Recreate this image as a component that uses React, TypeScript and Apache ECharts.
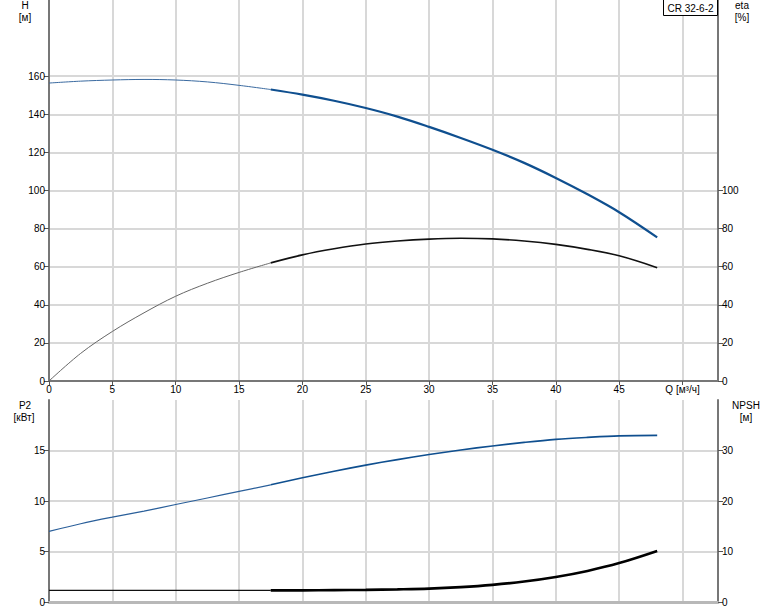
import React, { useEffect, useRef } from "react";
import * as echarts from "echarts";

const Q = [0, 2.5, 5, 7.5, 10, 12.5, 15, 17.5, 20, 22.5, 25, 27.5, 30, 32.5, 35, 37.5, 40, 42.5, 45, 48];
const H = [156.4, 157.4, 158.0, 158.3, 158.0, 157.0, 155.2, 153.0, 150.3, 147.1, 143.3, 138.8, 133.4, 127.6, 121.4, 114.5, 106.6, 98.0, 88.6, 75.4];
const ETA = [0, 14.5, 26.0, 35.8, 44.5, 51.3, 57.0, 62.0, 66.2, 69.4, 71.9, 73.5, 74.5, 74.9, 74.6, 73.5, 71.7, 69.1, 65.7, 59.5];
const P2 = [7.0, 7.75, 8.4, 9.0, 9.65, 10.3, 10.95, 11.6, 12.3, 12.95, 13.55, 14.1, 14.6, 15.05, 15.45, 15.8, 16.1, 16.3, 16.45, 16.5];
const NPSH = [2.3, 2.3, 2.3, 2.3, 2.3, 2.3, 2.3, 2.3, 2.3, 2.35, 2.4, 2.5, 2.65, 2.95, 3.4, 4.05, 4.95, 6.15, 7.7, 10.1];
const SPLIT_Q = 17.5;

const H_LABELS = [0, 20, 40, 60, 80, 100, 120, 140, 160];
const ETA_LABELS = [0, 20, 40, 60, 80, 100];
const P2_LABELS = [0, 5, 10, 15];
const NPSH_LABELS = [0, 10, 20, 30];

const PUMP_NAME = "CR 32-6-2";
const Q_UNIT = "Q [м³/ч]";

function part(values: number[], thick: boolean) {
  return Q.map((q, i) => [q, values[i]]).filter(([q]) => (thick ? q >= SPLIT_Q : q <= SPLIT_Q));
}

const FONT = "'Liberation Sans', Arial, sans-serif";
const TXT = "#000";
const GRID_C = "#d8d8d8";
const AXIS_C = "#777";

export default function App() {
  const ref = useRef<HTMLDivElement>(null);
  useEffect(() => {
    if (!ref.current) return;
    const chart = echarts.init(ref.current, null, { renderer: "svg" });
    const label = { color: TXT, fontSize: 10, fontFamily: FONT };
    const yLeft = (max: number, interval: number, custom: number[], gridIndex: number) => ({
      type: "value",
      gridIndex,
      position: "left",
      min: 0,
      max,
      interval,
      axisLine: { show: true, lineStyle: { color: AXIS_C, width: 2 } },
      axisTick: { show: true, length: 5, lineStyle: { color: "#555" }, customValues: custom },
      axisLabel: { ...label, margin: 4, customValues: custom },
      splitLine: { show: true, lineStyle: { color: GRID_C, width: 2 } },
    });
    const yRight = (max: number, interval: number, custom: number[], gridIndex: number) => ({
      type: "value",
      gridIndex,
      position: "right",
      min: 0,
      max,
      interval,
      axisLine: { show: true, lineStyle: { color: AXIS_C, width: 2 } },
      axisTick: { show: true, length: 5, lineStyle: { color: "#555" }, customValues: custom },
      axisLabel: { ...label, margin: 4, customValues: custom },
      splitLine: { show: false },
    });
    const line = (name: string, data: number[][], x: number, y: number, color: string, width: number) => ({
      type: "line",
      name,
      xAxisIndex: x,
      yAxisIndex: y,
      data,
      smooth: 0.35,
      showSymbol: false,
      symbol: "none",
      lineStyle: { color, width },
      silent: true,
    });
    const text = (t: string, x: number, y: number) => ({
      type: "text",
      x,
      y,
      style: { text: t, fill: TXT, font: `10px ${FONT}`, textAlign: "center", textVerticalAlign: "middle" },
    });
    chart.setOption({
      animation: false,
      backgroundColor: "#fff",
      textStyle: { fontFamily: FONT },
      grid: [
        { left: 49, right: 56, top: 0, height: 381 },
        { left: 49, right: 56, top: 400, height: 202 },
      ],
      xAxis: [
        {
          type: "value",
          gridIndex: 0,
          min: 0,
          max: 52.8,
          interval: 5,
          axisLine: { show: true, onZero: false, lineStyle: { color: AXIS_C, width: 2 } },
          axisTick: { show: true, length: 4, lineStyle: { color: "#555" } },
          axisLabel: {
            ...label,
            margin: 3,
            showMaxLabel: false,
            formatter: (v: number) => (v === 50 ? Q_UNIT : String(v)),
          },
          splitLine: { show: true, lineStyle: { color: GRID_C, width: 2 } },
        },
        {
          type: "value",
          gridIndex: 1,
          min: 0,
          max: 52.8,
          interval: 5,
          axisLine: { show: true, onZero: false, lineStyle: { color: "#b8b8b8", width: 3 } },
          axisTick: { show: false },
          axisLabel: { show: false },
          splitLine: { show: true, lineStyle: { color: GRID_C, width: 2 } },
        },
      ],
      yAxis: [
        yLeft(200, 20, H_LABELS, 0),
        yRight(200, 20, ETA_LABELS, 0),
        yLeft(20, 5, P2_LABELS, 1),
        yRight(40, 10, NPSH_LABELS, 1),
      ],
      series: [
        line("H", part(H, false), 0, 0, "#3a6aa0", 1),
        line("H", part(H, true), 0, 0, "#0f4f8f", 2.2),
        line("eta", part(ETA, false), 0, 1, "#666", 1),
        line("eta", part(ETA, true), 0, 1, "#111", 1.6),
        line("P2", part(P2, false), 1, 2, "#2a5f9a", 1.2),
        line("P2", part(P2, true), 1, 2, "#0f4f8f", 1.6),
        line("NPSH", part(NPSH, false), 1, 3, "#111", 1.2),
        line("NPSH", part(NPSH, true), 1, 3, "#000", 2.6),
      ],
      graphic: [
        text("H", 25, 5),
        text("[м]", 25, 17),
        text("eta", 742, 5),
        text("[%]", 742, 17),
        text("P2", 25, 405),
        text("[кВт]", 24, 417),
        text("NPSH", 746, 405),
        text("[м]", 746, 417),
        {
          type: "rect",
          z: 100,
          shape: { x: 663.5, y: -0.5, width: 54, height: 16 },
          style: { fill: "#fff", stroke: "#000", lineWidth: 1 },
        },
        {
          type: "text",
          z: 101,
          x: 690.5,
          y: 8,
          style: { text: PUMP_NAME, fill: TXT, font: `10px ${FONT}`, textAlign: "center", textVerticalAlign: "middle" },
        },
      ],
    });
    return () => chart.dispose();
  }, []);
  return (
    <div
      ref={ref}
      style={{ position: "fixed", left: 0, top: 0, width: 774, height: 611, background: "#fff" }}
    />
  );
}
